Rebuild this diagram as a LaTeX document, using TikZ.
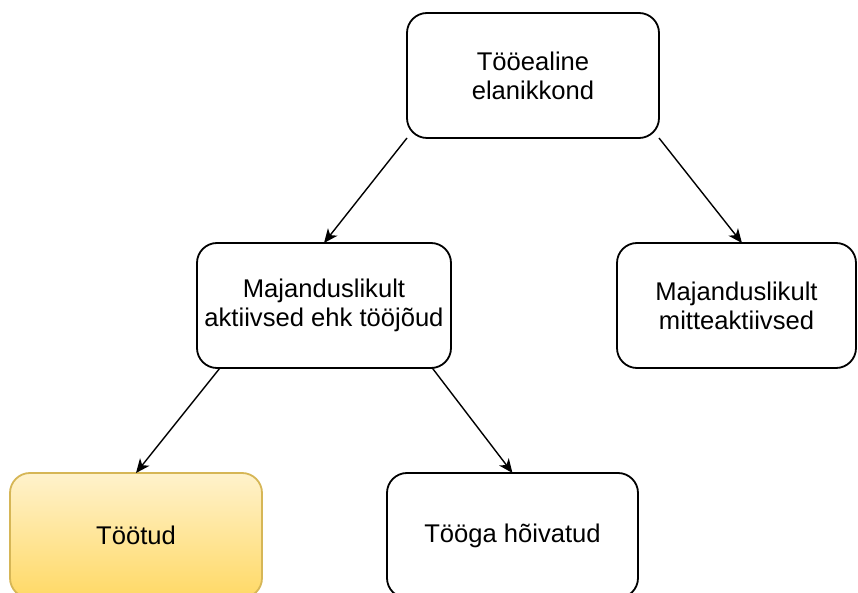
\documentclass[tikz,border=0pt]{standalone}
\usepackage{fontspec}
\setmainfont{Liberation Sans}
\usepackage{tikz}
\usetikzlibrary{arrows.meta}

\definecolor{noteline}{HTML}{D6B656}
\definecolor{notetop}{HTML}{FFF2CC}
\definecolor{notebottom}{HTML}{FFD966}

\begin{document}
\begin{tikzpicture}[x=0.5pt,y=-0.5pt,
    box/.style={draw,line width=0.9pt,rounded corners=10pt,align=center,
      minimum height=62.5pt,inner sep=0pt,outer sep=0pt,
      font=\fontsize{12.8}{14.5}\selectfont},
    link/.style={->,>={Stealth[length=7pt,width=6pt,inset=2pt]},line width=0.7pt}]
    \useasboundingbox (0,0) rectangle (858,593);
    \clip (0,0) rectangle (858,593);
    % groups
    \node [box,minimum width=126pt] (pop) at (533,75.5) {Tööealine\\elanikkond};
    \node [box,minimum width=127pt] (act) at (324,305.5) {Majanduslikult\\aktiivsed ehk tööjõud};
    \node [box,minimum width=119.5pt] (inact) at (736.5,305.5) {Majanduslikult\\mitteaktiivsed};
    \node [box,minimum width=126pt,draw=noteline,top color=notetop,bottom color=notebottom] (unemp) at (136,535.5) {Töötud};
    \node [box,minimum width=125.5pt] (emp) at (512.5,535.5) {Tööga hõivatud};
    % arrows
    \draw [link](pop.south west)--(act.north);
    \draw [link](pop.south east)--(inact.85);
    \draw [link](act.211)--(unemp.north);
    \draw [link](act.330)--(emp.north);
  \end{tikzpicture}
\end{document}
